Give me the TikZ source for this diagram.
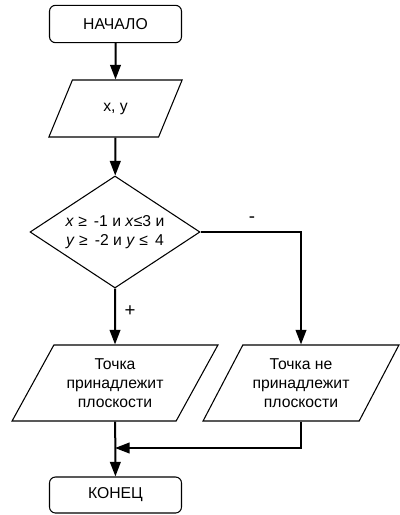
\documentclass[tikz,border=0pt]{standalone}
\usepackage{fontspec}
\setmainfont{Liberation Sans}
\usetikzlibrary{arrows.meta, shapes.geometric}

\begin{document}
\begin{tikzpicture}[x=0.75pt, y=-0.75pt,
  font=\fontsize{11.8}{14.3}\selectfont,
  term/.style={draw, line width=0.8pt, rounded corners=4.5pt, minimum width=99pt, minimum height=28pt},
  io/.style={draw, line width=0.8pt, trapezium, trapezium stretches=true, align=center, inner sep=0pt},
  test/.style={draw, line width=0.8pt, diamond, aspect=1.52, inner sep=0pt, align=center, minimum width=127.5pt, minimum height=84pt},
  line/.style={line width=1.5pt, -{Triangle[length=11pt, width=8pt]}}]
  \useasboundingbox (0,0) rectangle (400,515);
  % Blocks
  \node[term] (start) at (115.5,24) {НАЧАЛО};
  \node[io, trapezium left angle=60, trapezium right angle=120,
        minimum width=100pt, minimum height=42.75pt] (input) at (115.5,108.5) {x, y};
  \node[test] (check) at (115,232)
    {\textit{x} \textit{≥}\, -1 и \textit{x}\textit{≤}3 и\\ \textit{y} \textit{≥}\, -2 и \textit{y} \textit{≤}\, 4};
  \node[io, trapezium left angle=56, trapezium right angle=124,
        minimum width=154.5pt, minimum height=57pt] (inside) at (115,383)
    {Точка\\принадлежит\\плоскости};
  \node[io, trapezium left angle=56, trapezium right angle=124,
        minimum width=147pt, minimum height=57pt] (outside) at (301,383)
    {Точка не\\принадлежит\\плоскости};
  \node[term, minimum height=27pt] (stop) at (115.5,495) {КОНЕЦ};
  % Labels
  \node[font=\fontsize{14}{16}\selectfont] (minus) at (252,220) {-};
  \node[font=\fontsize{14}{16}\selectfont] (plus) at (130,311) {+};
  \coordinate (merge) at (115,448);
  % Arrows
  \draw[line] (start) -- (input);
  \draw[line] (input) -- (check);
  \draw[line] (check) -- (inside);
  \draw[line] (check.east) -| (outside.north);
  \draw[line] (inside) -- (stop);
  \draw[line] (outside.south) |- (merge);
\end{tikzpicture}
\end{document}
